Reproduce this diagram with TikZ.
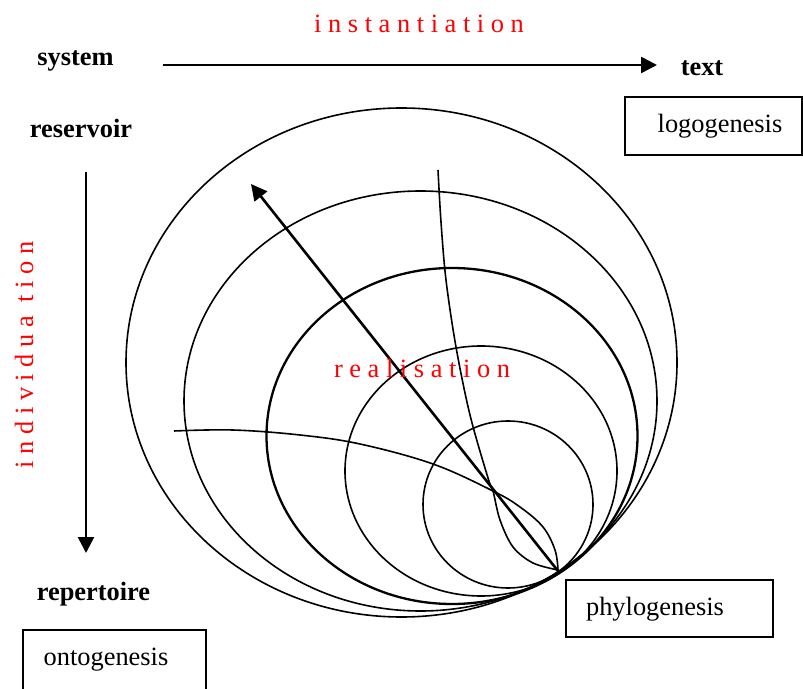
\documentclass[tikz,border=0pt]{standalone}
\usepackage{fontspec}
\setmainfont{Liberation Serif}
\usetikzlibrary{arrows.meta}
\begin{document}
\begin{tikzpicture}[x=0.5pt,y=-0.5pt,
  lbl/.style={inner sep=0pt, anchor=base, font=\fontsize{13.2}{15}\selectfont},
  blbl/.style={lbl, font=\fontsize{13.2}{15}\selectfont\bfseries},
  rlbl/.style={lbl, text=red},
  ring/.style={line width=0.8pt},
  thickring/.style={line width=1.15pt},
  curveline/.style={line width=0.8pt},
  boxline/.style={line width=0.8pt},
  arr/.style={line width=1.3pt, -{Triangle[length=8pt,width=8pt]}}]
\useasboundingbox (0,0) rectangle (803,689);
% labels
\node[rlbl] (inst) at (419,33) {i n s t a n t i a t i o n};
\node[blbl] (system) at (75.5,66) {system};
\node[blbl] (text) at (702,76) {text};
\node[blbl] (reservoir) at (81,138) {reservoir};
\node[blbl] (repertoire) at (93.5,600) {repertoire};
\node[rlbl, rotate=90] (indiv) at (33,355) {i n d i v i d u a\ \ t i o n};
% boxes
\draw[boxline] (625,97) rectangle (802,155);
\node[lbl] (logo) at (720,133) {logogenesis};
\draw[boxline] (566,580) rectangle (773,637);
\node[lbl] (phylo) at (655,615) {phylogenesis};
\draw[boxline] (23,692) -- (23,630) -- (206,630) -- (206,692);
\node[lbl] (onto) at (106,665) {ontogenesis};
% arrows
\coordinate (hs) at (163,65);
\coordinate (he) at (657,65);
\draw[arr] (hs) -- (he);
\coordinate (vs) at (86,172);
\coordinate (ve) at (86,553);
\draw[arr] (vs) -- (ve);
% ellipses
\draw[ring] (401.5,362.5) ellipse [x radius=275.5, y radius=254.5];
\draw[ring] (420.5,401) ellipse [x radius=236.5, y radius=210];
\draw[thickring] (452,436) ellipse [x radius=185.5, y radius=168];
\draw[ring] (481,471) ellipse [x radius=136, y radius=125];
\draw[ring] (508,504.5) ellipse [x radius=85, y radius=83.5];
% curves
\draw[curveline] plot[smooth, tension=0.55] coordinates {(438,170) (441,222) (446,280) (456,347) (470,415) (488,478) (493,491) (500,520) (513,547) (533,563) (558,570)};
\draw[curveline] plot[smooth, tension=0.6] coordinates {(174,431) (233,430) (300,435) (360,444) (433,464) (493,491) (520,507) (543,527) (555,550) (558,570)};
% realisation arrow
\coordinate (T) at (558,571);
\coordinate (R) at (251,184);
\draw[arr] (T) -- (R);
\node[rlbl] (real) at (422,378) {r e a l i s a t i o n};
\end{tikzpicture}
\end{document}
